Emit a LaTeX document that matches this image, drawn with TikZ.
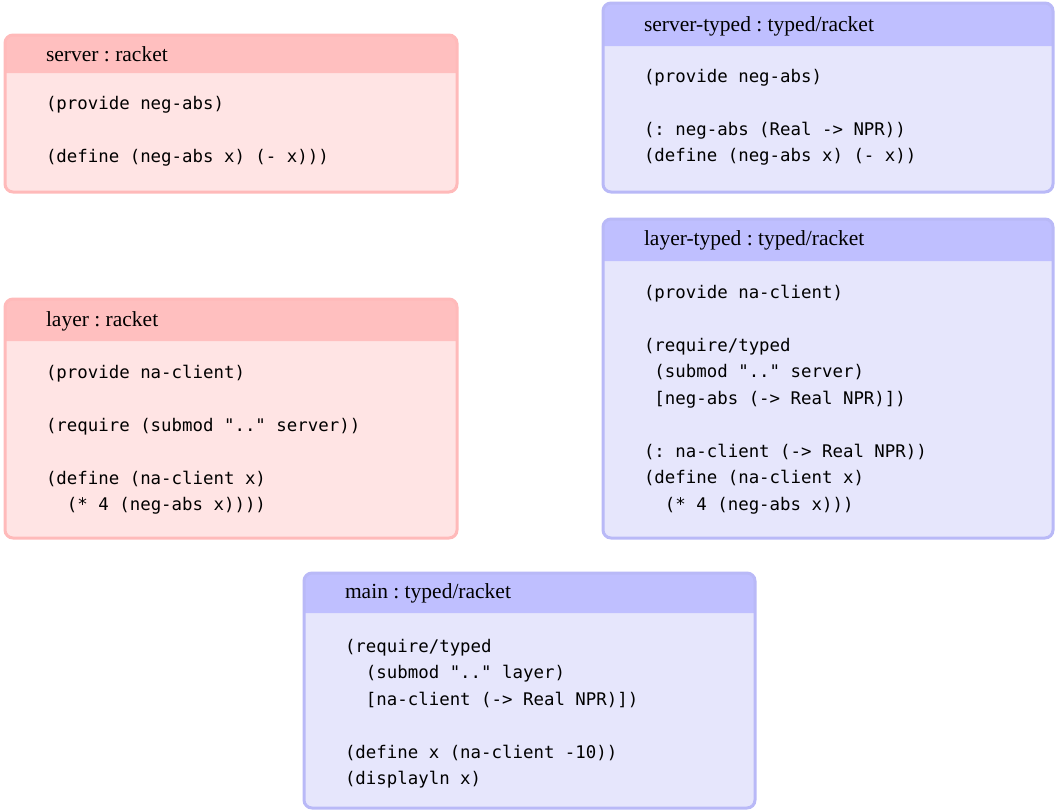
\documentclass[tikz,border=0pt]{standalone}
\usepackage{fontspec}
\setmainfont{Liberation Serif}
\setmonofont{DejaVu Sans Mono}
\definecolor{redhead}{HTML}{FFBFBF}
\definecolor{redbody}{HTML}{FFE4E4}
\definecolor{redline}{HTML}{FFBABA}
\definecolor{bluehead}{HTML}{BFBFFF}
\definecolor{bluebody}{HTML}{E6E6FC}
\definecolor{blueline}{HTML}{B9B9F7}
\newcommand\fixedspaces{\spaceskip=\fontcharwd\font`\x\relax\xspaceskip=\spaceskip}
\begin{document}
\begin{tikzpicture}[x=1pt,y=-1pt]
	\tikzstyle{every node}=[inner sep=0pt,outer sep=0pt]
	\tikzstyle{title}=[anchor=base west,font=\fontsize{21.5}{25}\selectfont\frenchspacing]
	\tikzstyle{code}=[anchor=base west,align=left,font=\fontsize{17.4}{26.5}\selectfont\ttfamily\fixedspaces]
	\tikzstyle{redbox}=[rectangle,rounded corners=8pt,fill=redbody,anchor=north west]
	\tikzstyle{bluebox}=[rectangle,rounded corners=8pt,fill=bluebody,anchor=north west]
	\tikzstyle{edge}=[line width=3pt,rounded corners=8pt]

	\useasboundingbox (0,0) rectangle (1056,809);

	%% server : racket
	\node (srv) [redbox,minimum width=452pt,minimum height=157pt] at (5,35) {};
	\fill [redhead] (5,73) [rounded corners=8pt] -- (5,35) -- (457,35) [sharp corners] -- (457,73) -- cycle;
	\draw [edge,redline] (srv.north west) rectangle (srv.south east);
	\node (srvtitle) [title] at (46,61.5) {server : racket};
	\node (srvcode) [code] at (46,162) {(provide neg-abs)\\[26.5pt]
		(define (neg-abs x) (- x)))};

	%% server-typed : typed/racket
	\node (srvt) [bluebox,minimum width=450pt,minimum height=189pt] at (603,3) {};
	\fill [bluehead] (603,46) [rounded corners=8pt] -- (603,3) -- (1053,3) [sharp corners] -- (1053,46) -- cycle;
	\draw [edge,blueline] (srvt.north west) rectangle (srvt.south east);
	\node (srvttitle) [title] at (644,31) {server-typed : typed/racket};
	\node (srvtcode) [code] at (644,161.5) {(provide neg-abs)\\[26.5pt]
		(: neg-abs (Real -> NPR))\\
		(define (neg-abs x) (- x))};

	%% layer : racket
	\node (lay) [redbox,minimum width=452pt,minimum height=239pt] at (5,299) {};
	\fill [redhead] (5,341) [rounded corners=8pt] -- (5,299) -- (457,299) [sharp corners] -- (457,341) -- cycle;
	\draw [edge,redline] (lay.north west) rectangle (lay.south east);
	\node (laytitle) [title] at (46,326) {layer : racket};
	\node (laycode) [code] at (46,510.5) {(provide na-client)\\[26.5pt]
		(require (submod ".." server))\\[26.5pt]
		(define (na-client x)\\
		\phantom{xx}(* 4 (neg-abs x))))};

	%% layer-typed : typed/racket
	\node (layt) [bluebox,minimum width=450pt,minimum height=319pt] at (603,219) {};
	\fill [bluehead] (603,261) [rounded corners=8pt] -- (603,219) -- (1053,219) [sharp corners] -- (1053,261) -- cycle;
	\draw [edge,blueline] (layt.north west) rectangle (layt.south east);
	\node (layttitle) [title] at (644,245) {layer-typed : typed/racket};
	\node (laytcode) [code] at (644,510) {(provide na-client)\\[26.5pt]
		(require/typed\\
		\phantom{x}(submod ".." server)\\
		\phantom{x}{[}neg-abs (-> Real NPR){]})\\[26.5pt]
		(: na-client (-> Real NPR))\\
		(define (na-client x)\\
		\phantom{xx}(* 4 (neg-abs x)))};

	%% main : typed/racket
	\node (mn) [bluebox,minimum width=451pt,minimum height=235pt] at (304,573) {};
	\fill [bluehead] (304,613) [rounded corners=8pt] -- (304,573) -- (755,573) [sharp corners] -- (755,613) -- cycle;
	\draw [edge,blueline] (mn.north west) rectangle (mn.south east);
	\node (mntitle) [title] at (345,598) {main : typed/racket};
	\node (mncode) [code] at (345,784.5) {(require/typed\\
		\phantom{xx}(submod ".." layer)\\
		\phantom{xx}{[}na-client (-> Real NPR){]})\\[26.5pt]
		(define x (na-client -10))\\
		(displayln x)};

\end{tikzpicture}
\end{document}
